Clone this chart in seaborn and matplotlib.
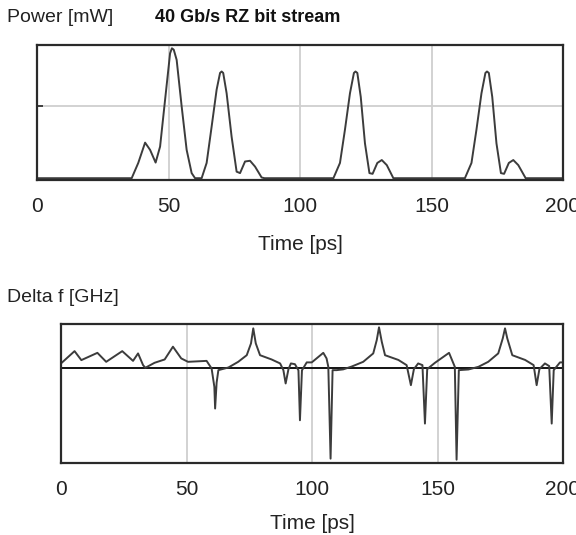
import matplotlib
matplotlib.use("Agg")
import matplotlib.pyplot as plt
import seaborn as sns
import pandas as pd

# ---- data ----
time_power = [0, 36, 38.5, 41.1, 43, 45.1, 46.8, 48.7, 50.6, 51.3, 52.0, 53.1, 55, 56.9, 58.8, 60.1,
              62.6, 64.5, 66.4, 68.3, 69.6, 70.2, 70.8, 72.1, 74, 75.9, 77.2, 79.1, 81, 82.9, 85.4, 86.5,
              112.7, 115.2, 117.1, 119, 120.5, 121.1, 121.8, 123.1, 124.7, 126.4, 127.6, 129.4, 131.1, 133, 135.5,
              162.7, 165.2, 167.1, 169, 170.5, 171.1, 171.8, 173.1, 174.7, 176.4, 177.6, 179.4, 181.1, 183, 185.8,
              200]
power_mw = [0, 0, 0.21, 0.49, 0.39, 0.215, 0.435, 1.08, 1.72, 1.79, 1.77, 1.63, 0.99, 0.39, 0.07, 0,
            0, 0.21, 0.71, 1.22, 1.45, 1.47, 1.45, 1.17, 0.57, 0.09, 0.07, 0.23, 0.24, 0.16, 0.01, 0,
            0, 0.21, 0.67, 1.17, 1.45, 1.47, 1.45, 1.12, 0.48, 0.07, 0.06, 0.21, 0.25, 0.18, 0,
            0, 0.21, 0.67, 1.17, 1.45, 1.47, 1.45, 1.12, 0.48, 0.07, 0.06, 0.21, 0.25, 0.18, 0,
            0]

time_df = [0, 5.4, 8.1, 14.5, 18, 24.4, 28.7, 30.7, 32.7, 33.6, 37.3, 41.3, 44.6, 47.9, 50.6,
           58, 60, 61.1, 61.4, 62.0, 62.7, 66.7, 70.6, 74, 75.7, 76.6, 77.6, 79.3, 83.9, 87.3,
           88.6, 89.5, 90.6, 91.6, 93.2, 94.6, 95.2, 96, 97.9, 99.9,
           104.5, 105.8, 106.5, 107.4, 108.2, 109.8, 112.4, 115.8, 120.4, 124.4, 125.8, 126.7, 127.8, 129.1,
           134.4, 137.7, 139.4, 140.6, 142.3, 144.0, 145, 145.9, 149,
           154.6, 156.9, 157.6, 158.5, 162.3, 166.3, 170.2, 174.2, 176, 176.9, 177.8, 179.8,
           184.9, 188.3, 189.5, 190.6, 192.8, 194.5, 195.5, 196.3, 198.8, 200]
delta_f_ghz = [5.3, 18.3, 8.8, 16.5, 7, 18.3, 8, 15.9, 3.5, 0.7, 6, 9.5, 23, 10.6, 7,
               8, 0, -19.5, -42.4, -15, -1.8, 1, 7, 14, 26.5, 42.4, 26.5, 14, 9.5, 5.3,
               -1.8, -15.9, -1, 5.3, 4.5, -2, -54.8, -2, 6.4, 6.4,
               16.5, 10.6, 1.7, -95.4, -1.8, -1.8, -1, 2, 7, 15.9, 30, 43.5, 28.2, 14,
               9, 3.5, -17.7, -0.7, 5.3, 3.5, -58.3, -0.7, 6,
               16.5, 1.7, -96.5, -1.8, -1.1, 1.7, 7, 15.9, 31.8, 42.4, 31.8, 14,
               9, 3.5, -17.7, -0.7, 5.3, 2.5, -58.3, -1.8, 6.4, 6.4]

x_ticks = [0, 50, 100, 150, 200]
title = "40 Gb/s RZ bit stream"
power_label = "Power [mW]"
df_label = "Delta f [GHz]"
x_label = "Time [ps]"

df_power = pd.DataFrame({"t": time_power, "p": power_mw})
df_freq = pd.DataFrame({"t": time_df, "f": delta_f_ghz})

sns.set_style("white")
plt.rcParams["font.family"] = ["Liberation Sans", "DejaVu Sans"]

W, H = 576, 535
fig = plt.figure(figsize=(W / 100, H / 100), dpi=100)

def frac(x0, y0, x1, y1):
    return [x0 / W, 1 - y1 / H, (x1 - x0) / W, (y1 - y0) / H]

ax1 = fig.add_axes(frac(37, 45, 563, 180))
ax2 = fig.add_axes(frac(61, 324, 563, 463))

line_kw = dict(color="#3c3c3c", linewidth=1.4, estimator=None, sort=False)
sns.lineplot(data=df_power, x="t", y="p", ax=ax1, **line_kw)
sns.lineplot(data=df_freq, x="t", y="f", ax=ax2, **line_kw)

ax1.set_ylim(-0.025, 1.835)
ax2.set_ylim(-100, 47)
ax2.axhline(0, color="black", linewidth=1.3, zorder=1)

for ax, tpad, lpad in ((ax1, 12, 14), (ax2, 12, 11)):
    ax.set_xlim(0, 200)
    ax.set_xticks(x_ticks)
    ax.set_xticklabels([str(v) for v in x_ticks])
    for v in x_ticks[1:-1]:
        ax.axvline(v, color="#cfcfcf", linewidth=1.3, zorder=0)
    ax.set_xlabel(x_label, fontsize=15, labelpad=lpad, color="#222222")
    ax.set_ylabel("")
    ax.tick_params(axis="x", direction="in", length=4, width=1.2, colors="black",
                   labelsize=15, pad=tpad, labelcolor="#222222")
    for s in ax.spines.values():
        s.set_color("#2a2a2a")
        s.set_linewidth(1.6)

ax1.set_yticks([1.0])
ax1.set_yticklabels([""])
ax1.axhline(1.0, color="#cfcfcf", linewidth=1.3, zorder=0)
ax1.tick_params(axis="y", direction="in", length=4, width=1.2, left=True)
ax2.set_yticks([])

fig.text(7 / W, 1 - 18 / H, power_label, fontsize=14, va="center", ha="left", color="#222222")
fig.text(155 / W, 1 - 17 / H, title, fontsize=13, fontweight="bold", va="center", ha="left", color="#111111")
fig.text(7 / W, 1 - 297 / H, df_label, fontsize=14, va="center", ha="left", color="#222222")

fig.savefig("out.png", dpi=100)
